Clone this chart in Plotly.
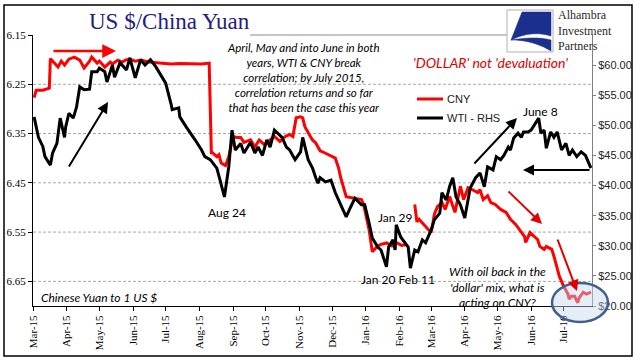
import plotly.graph_objects as go

# ---------------- data ----------------
cny_dates = [
    "2015-03-02", "2015-03-04", "2015-03-10", "2015-03-16", "2015-03-17", "2015-03-20", "2015-03-24",
    "2015-03-27", "2015-03-30", "2015-04-03", "2015-04-08", "2015-04-13", "2015-04-17", "2015-04-22",
    "2015-04-24", "2015-04-29", "2015-05-01", "2015-05-06", "2015-05-11", "2015-05-13", "2015-05-18",
    "2015-05-22", "2015-05-25", "2015-05-29", "2015-06-03", "2015-06-08", "2015-06-16", "2015-06-25",
    "2015-07-06", "2015-07-14", "2015-07-23", "2015-08-03", "2015-08-10", "2015-08-11", "2015-08-12",
    "2015-08-13", "2015-08-17", "2015-08-19", "2015-08-21", "2015-08-25", "2015-08-28", "2015-09-01",
    "2015-09-04", "2015-09-08", "2015-09-11", "2015-09-17", "2015-09-21", "2015-09-25", "2015-09-30",
    "2015-10-05", "2015-10-09", "2015-10-14", "2015-10-19", "2015-10-23", "2015-10-26", "2015-10-29",
    "2015-11-02", "2015-11-04", "2015-11-06", "2015-11-10", "2015-11-13", "2015-11-16", "2015-11-20",
    "2015-11-25", "2015-11-30", "2015-12-04", "2015-12-07", "2015-12-09", "2015-12-14", "2015-12-18",
    "2015-12-28", "2015-12-30", "2016-01-04", "2016-01-07", "2016-01-12", "2016-01-15", "2016-01-20",
    "2016-01-25", "2016-01-29", "2016-02-03", "2016-02-08", "2016-02-10", "2016-02-15", "2016-02-17",
    "2016-02-19", "2016-02-24", "2016-02-26", "2016-03-01", "2016-03-02", "2016-03-04", "2016-03-07",
    "2016-03-09", "2016-03-11", "2016-03-14", "2016-03-17", "2016-03-18", "2016-03-23", "2016-03-28",
    "2016-03-31", "2016-04-04", "2016-04-08", "2016-04-13", "2016-04-15", "2016-04-18", "2016-04-22",
    "2016-04-25", "2016-04-29", "2016-05-04", "2016-05-09", "2016-05-13", "2016-05-18", "2016-05-23",
    "2016-05-26", "2016-05-27", "2016-05-31", "2016-06-03", "2016-06-07", "2016-06-09", "2016-06-13",
    "2016-06-15", "2016-06-20", "2016-06-22", "2016-06-24", "2016-06-27", "2016-06-29", "2016-07-01",
    "2016-07-05", "2016-07-06", "2016-07-08", "2016-07-11", "2016-07-13", "2016-07-14", "2016-07-15",
    "2016-07-19", "2016-07-22", "2016-07-26",
]
cny_values = [
    6.277, 6.262, 6.262, 6.258, 6.198, 6.205, 6.215,
    6.203, 6.211, 6.199, 6.195, 6.201, 6.217, 6.203,
    6.195, 6.207, 6.203, 6.215, 6.205, 6.209, 6.201,
    6.205, 6.201, 6.199, 6.203, 6.201, 6.205, 6.207,
    6.209, 6.208, 6.209, 6.209, 6.207, 6.330, 6.389,
    6.389, 6.397, 6.393, 6.410, 6.415, 6.397, 6.356,
    6.358, 6.358, 6.368, 6.363, 6.377, 6.363, 6.373,
    6.363, 6.356, 6.366, 6.356, 6.352, 6.356, 6.318,
    6.316, 6.318, 6.336, 6.352, 6.363, 6.369, 6.385,
    6.390, 6.395, 6.400, 6.420, 6.440, 6.478, 6.480,
    6.484, 6.494, 6.545, 6.590, 6.578, 6.575, 6.572,
    6.578, 6.571, 6.577, 6.575, None, 6.494, 6.529,
    6.524, 6.535, 6.541, 6.551, 6.541, 6.514, 6.498,
    6.494, 6.490, 6.504, 6.484, 6.478, 6.510, 6.457,
    6.484, 6.460, 6.464, 6.470, 6.464, 6.484, 6.476,
    6.490, 6.494, 6.504, 6.510, 6.524, 6.535, 6.551,
    6.559, 6.571, 6.551, 6.557, 6.565, 6.579, 6.585,
    6.579, 6.585, 6.599, 6.618, 6.640, 6.650, 6.660,
    6.676, 6.686, 6.680, 6.680, 6.690, 6.693, 6.684,
    6.672, 6.676, 6.672,
]

wti_dates = [
    "2015-03-02", "2015-03-04", "2015-03-06", "2015-03-10", "2015-03-12", "2015-03-17", "2015-03-19",
    "2015-03-23", "2015-03-26", "2015-03-30", "2015-03-31", "2015-04-03", "2015-04-07", "2015-04-10",
    "2015-04-13", "2015-04-17", "2015-04-22", "2015-04-24", "2015-04-29", "2015-05-01", "2015-05-06",
    "2015-05-08", "2015-05-13", "2015-05-15", "2015-05-20", "2015-05-26", "2015-05-29", "2015-06-03",
    "2015-06-08", "2015-06-12", "2015-06-17", "2015-06-22", "2015-06-26", "2015-07-01", "2015-07-06",
    "2015-07-07", "2015-07-13", "2015-07-14", "2015-07-20", "2015-07-24", "2015-07-28", "2015-08-03",
    "2015-08-06", "2015-08-11", "2015-08-17", "2015-08-20", "2015-08-24", "2015-08-28", "2015-08-31",
    "2015-09-03", "2015-09-08", "2015-09-11", "2015-09-17", "2015-09-21", "2015-09-24", "2015-09-28",
    "2015-10-02", "2015-10-05", "2015-10-09", "2015-10-16", "2015-10-20", "2015-10-23", "2015-10-28",
    "2015-11-02", "2015-11-04", "2015-11-09", "2015-11-13", "2015-11-16", "2015-11-18", "2015-11-20",
    "2015-11-25", "2015-11-30", "2015-12-04", "2015-12-09", "2015-12-14", "2015-12-18", "2015-12-22",
    "2015-12-28", "2015-12-31", "2016-01-04", "2016-01-07", "2016-01-12", "2016-01-15", "2016-01-20",
    "2016-01-22", "2016-01-26", "2016-01-28", "2016-01-29", "2016-02-02", "2016-02-04", "2016-02-09",
    "2016-02-11", "2016-02-15", "2016-02-18", "2016-02-22", "2016-02-25", "2016-03-01", "2016-03-04",
    "2016-03-09", "2016-03-11", "2016-03-15", "2016-03-18", "2016-03-21", "2016-03-24", "2016-03-28",
    "2016-04-01", "2016-04-06", "2016-04-11", "2016-04-15", "2016-04-19", "2016-04-22", "2016-04-27",
    "2016-04-30", "2016-05-04", "2016-05-07", "2016-05-11", "2016-05-13", "2016-05-16", "2016-05-20",
    "2016-05-23", "2016-05-25", "2016-05-29", "2016-06-01", "2016-06-08", "2016-06-10", "2016-06-13",
    "2016-06-15", "2016-06-19", "2016-06-22", "2016-06-25", "2016-06-29", "2016-07-03", "2016-07-06",
    "2016-07-09", "2016-07-13", "2016-07-17", "2016-07-21", "2016-07-26",
]
wti_values = [
    51.4, 49.6, 48.0, 46.5, 44.8, 43.4, 45.4,
    47.0, 51.2, 48.0, 49.7, 52.0, 51.2, 53.0,
    56.4, 55.9, 56.0, 58.9, 58.9, 59.5, 58.9,
    57.2, 60.0, 58.0, 60.4, 59.2, 61.2, 57.9,
    60.9, 60.0, 60.9, 59.7, 58.4, 57.0, 53.5,
    52.6, 52.9, 51.4, 49.7, 48.7, 47.6, 45.9,
    44.8, 44.3, 42.9, 40.9, 38.1, 43.1, 49.2,
    45.9, 47.0, 45.4, 47.2, 45.4, 46.4, 45.0,
    47.6, 46.4, 49.2, 48.0, 46.4, 45.9, 44.3,
    45.6, 48.0, 44.3, 42.9, 41.3, 40.4, 41.3,
    40.6, 40.9, 38.8, 36.8, 34.8, 36.4, 37.9,
    36.8, 36.8, 33.8, 31.3, 29.8, 29.3, 26.5,
    29.8, 31.0, 29.3, 33.5, 31.5, 31.0, 29.8,
    26.3, 29.3, 29.0, 31.0, 30.5, 32.6, 34.3,
    35.4, 38.8, 37.6, 39.8, 41.3, 38.1, 36.8,
    34.6, 39.6, 41.3, 42.1, 39.8, 43.1, 42.6,
    44.8, 44.3, 45.0, 46.4, 45.9, 47.9, 48.7,
    48.0, 48.9, 48.9, 49.2, 51.2, 48.7, 49.2,
    46.2, 48.9, 48.0, 48.9, 45.9, 47.0, 45.0,
    45.9, 44.8, 45.6, 45.0, 42.9,
]

cny_ticks = [6.15, 6.25, 6.35, 6.45, 6.55, 6.65]
cny_grid = [6.25, 6.35, 6.45, 6.55, 6.65]
wti_ticks = [20, 25, 30, 35, 40, 45, 50, 55, 60]
wti_tick_labels = ["$20.00", "$25.00", "$30.00", "$35.00", "$40.00", "$45.00", "$50.00", "$55.00", "$60.00"]

# ---------------- layout helpers (pixel -> paper) ----------------
W, H = 641, 361
L, R, T, B = 33, 592, 35, 306


def px(x):
    return (x - L) / (R - L)


def py(y):
    return (B - y) / (B - T)


SANS = "Lato, Liberation Sans, sans-serif"
SERIF = "Liberation Serif, Times New Roman, serif"

fig = go.Figure()
fig.add_trace(go.Scatter(x=cny_dates, y=cny_values, name="CNY", mode="lines",
                         line=dict(color="#FF0000", width=3), connectgaps=False,
                         showlegend=False, yaxis="y"))
fig.add_trace(go.Scatter(x=wti_dates, y=wti_values, name="WTI - RHS", mode="lines",
                         line=dict(color="#000000", width=3), showlegend=False, yaxis="y2"))

shapes = []
# dashed grid lines (left axis)
for g in cny_grid:
    shapes.append(dict(type="line", xref="paper", yref="y", x0=0, x1=1, y0=g, y1=g,
                       line=dict(color="#A8A8A8", width=1, dash="3px,2px"), layer="below"))
# top grey rule
shapes.append(dict(type="line", xref="paper", yref="paper", x0=px(250), x1=px(507), y0=py(35), y1=py(35),
                   line=dict(color="#8C8C8C", width=1)))
# outer frame
shapes.append(dict(type="rect", xref="paper", yref="paper", x0=px(4), x1=px(632), y0=py(356), y1=py(5),
                   line=dict(color="#000000", width=1.5)))
# ellipse
shapes.append(dict(type="circle", xref="paper", yref="paper", x0=px(552), x1=px(608), y0=py(322), y1=py(283),
                   fillcolor="rgba(198,214,236,0.45)", line=dict(color="#3F5F8F", width=2.5), layer="above"))
# legend samples
shapes.append(dict(type="line", xref="paper", yref="paper", x0=px(417), x1=px(443), y0=py(99), y1=py(99),
                   line=dict(color="#FF0000", width=3)))
shapes.append(dict(type="line", xref="paper", yref="paper", x0=px(417), x1=px(443), y0=py(118), y1=py(118),
                   line=dict(color="#000000", width=3)))
# logo box
shapes.append(dict(type="rect", xref="paper", yref="paper", x0=px(507), x1=px(553), y0=py(52), y1=py(10),
                   fillcolor="white", line=dict(color="#B0B0B0", width=1), layer="above"))


def quad(p0, c, p1, n=10):
    pts = []
    for i in range(1, n + 1):
        t = i / n
        x = (1 - t) ** 2 * p0[0] + 2 * (1 - t) * t * c[0] + t ** 2 * p1[0]
        y = (1 - t) ** 2 * p0[1] + 2 * (1 - t) * t * c[1] + t ** 2 * p1[1]
        pts.append((x, y))
    return pts


def poly(points):
    s = "M " + " L ".join(f"{px(a):.5f},{py(b):.5f}" for a, b in points) + " Z"
    return s


logo_blue = "#1B2F8E"
upper = [(522, 12), (551, 12), (551, 36)] + quad((551, 36), (531, 30), (511, 40))
lower = [(511, 40)] + quad((511, 40), (536, 36), (551, 40)) + [(551, 51)] + quad((551, 51), (533, 40), (511, 40))
for pts in (upper, lower):
    shapes.append(dict(type="path", xref="paper", yref="paper", layer="above", path=poly(pts),
                       fillcolor=logo_blue, line=dict(color=logo_blue, width=0.5)))

ann = []


def text(x, y, s, size=12, color="#000000", family=SANS, xanchor="center", align="center"):
    ann.append(dict(x=px(x), y=py(y), xref="paper", yref="paper", text=s, showarrow=False,
                    xanchor=xanchor, yanchor="middle", align=align,
                    font=dict(size=size, color=color, family=family)))


def arrow(tx, ty, hx, hy, color, width=2):
    ann.append(dict(x=px(hx), y=py(hy), xref="paper", yref="paper", ax=tx - hx, ay=ty - hy,
                    axref="pixel", ayref="pixel", text="", showarrow=True, arrowhead=2,
                    arrowsize=1.1, arrowwidth=width, arrowcolor=color, standoff=0, startstandoff=0))


text(169, 22, "US $/China Yuan", size=23, color="#1F2080", family=SERIF)
text(303, 78, "<i>April, May and into June in both<br>years, WTI &amp; CNY break<br>correlation; by July 2015,"
              "<br>correlation returns and so far<br>that has been the case this year</i>", size=11.5)
text(490, 62, "<i>'DOLLAR' not 'devaluation'</i>", size=14, color="#E00000")
text(445, 99, "CNY", size=11, color="#222222", family="Liberation Sans, Arial, sans-serif", xanchor="left")
text(445, 118, "WTI - RHS", size=11, color="#222222", family="Liberation Sans, Arial, sans-serif", xanchor="left")
text(540, 111, "June 8", size=12)
text(227, 212, "Aug 24", size=12)
text(395, 217, "Jan 29", size=12)
text(398, 279, "Jan 20 Feb 11", size=12)
text(497, 287, "<i>With oil back in the<br>'dollar' mix, what is<br>acting on CNY?</i>", size=12)
text(39, 297, "<i>Chinese Yuan to 1 US $</i>", size=12, xanchor="left")
text(556, 31, "Alhambra<br>Investment<br>Partners", size=12, color="#2A2A2A", family=SERIF,
     xanchor="left", align="left")

arrow(52, 51, 116, 51, "#FF0000", 2.5)
arrow(68, 168, 108, 102, "#000000", 2)
arrow(473, 165, 517, 118, "#000000", 2)
arrow(591, 170, 523, 170, "#000000", 2)
arrow(507, 190, 542, 224, "#E00000", 2)
arrow(557, 238, 577, 291, "#E00000", 2)

fig.update_layout(
    width=W, height=H,
    margin=dict(l=L, r=W - R, t=T, b=H - B, pad=0, autoexpand=False),
    paper_bgcolor="white", plot_bgcolor="white",
    showlegend=False,
    xaxis=dict(type="date", range=["2015-03-01", "2016-07-27"], tick0="2015-03-01", dtick="M1",
               tickformat="%b-%y", tickangle=-90, ticks="outside", ticklen=4, tickcolor="#000000",
               showline=True, linecolor="#000000", linewidth=1, showgrid=False, zeroline=False,
               automargin=False, tickfont=dict(family=SERIF, size=11, color="#000000")),
    yaxis=dict(range=[6.70, 6.15], tickvals=cny_ticks, tickformat=".2f", ticks="outside", ticklen=4,
               tickcolor="#000000", showline=True, linecolor="#000000", linewidth=1, showgrid=False,
               zeroline=False, automargin=False, tickfont=dict(family=SERIF, size=11, color="#000000")),
    yaxis2=dict(range=[20, 65], overlaying="y", side="right", tickvals=wti_ticks, ticktext=wti_tick_labels,
                ticks="outside", ticklen=3, tickcolor="#808080", showline=True,
                linecolor="#808080", linewidth=1, showgrid=False, zeroline=False, automargin=False,
                tickfont=dict(family="Liberation Sans, Arial, sans-serif", size=11, color="#222222")),
    shapes=shapes,
    annotations=ann,
)

fig.write_html("out.html", config={"displayModeBar": False},
               post_script="document.body.style.margin='0';document.body.style.padding='0';")
